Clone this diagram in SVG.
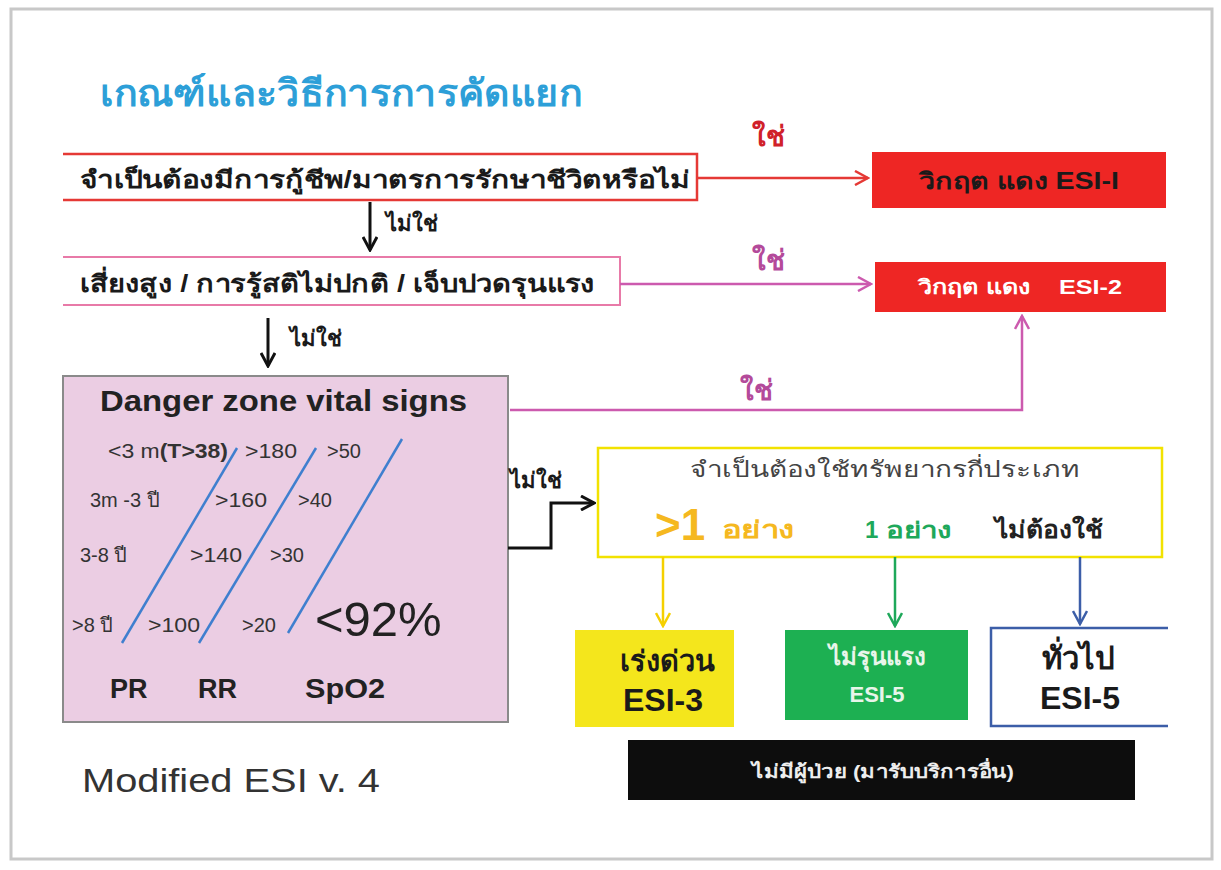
<svg xmlns="http://www.w3.org/2000/svg" width="1221" height="870" viewBox="0 0 1221 870">
<defs>
<style>
text{font-family:"Liberation Sans","Noto Sans","DejaVu Sans",sans-serif;}
.th{font-weight:bold;fill:#1a1a1a;}
.vs{font-size:20px;fill:#333;}
.lbl{font-size:22px;font-weight:bold;}
.ax{font-size:27px;font-weight:bold;fill:#222;}
</style>
<marker id="arR" markerWidth="16" markerHeight="16" refX="14" refY="8" orient="auto" markerUnits="userSpaceOnUse"><path d="M1,1 L14,8 L1,15" fill="none" stroke="#e53935" stroke-width="2.5"/></marker>
<marker id="arM" markerWidth="16" markerHeight="16" refX="14" refY="8" orient="auto" markerUnits="userSpaceOnUse"><path d="M1,1 L14,8 L1,15" fill="none" stroke="#cc5aae" stroke-width="2.5"/></marker>
<marker id="arK" markerWidth="16" markerHeight="16" refX="14" refY="8" orient="auto" markerUnits="userSpaceOnUse"><path d="M1,1 L14,8 L1,15" fill="none" stroke="#111" stroke-width="3"/></marker>
<marker id="arY" markerWidth="16" markerHeight="16" refX="14" refY="8" orient="auto" markerUnits="userSpaceOnUse"><path d="M1,1 L14,8 L1,15" fill="none" stroke="#f5d000" stroke-width="2.5"/></marker>
<marker id="arG" markerWidth="16" markerHeight="16" refX="14" refY="8" orient="auto" markerUnits="userSpaceOnUse"><path d="M1,1 L14,8 L1,15" fill="none" stroke="#1ea85a" stroke-width="2.5"/></marker>
<marker id="arB" markerWidth="16" markerHeight="16" refX="14" refY="8" orient="auto" markerUnits="userSpaceOnUse"><path d="M1,1 L14,8 L1,15" fill="none" stroke="#3c5ea8" stroke-width="2.5"/></marker>
</defs>
<rect x="0" y="0" width="1221" height="870" fill="#ffffff"/>
<rect x="11" y="9" width="1201" height="850" fill="#ffffff" stroke="#c8c8c8" stroke-width="3"/>

<g id="title">
<text x="100" y="106" font-size="37" font-weight="bold" fill="#2d9fd8" textLength="482" lengthAdjust="spacingAndGlyphs">เกณฑ์และวิธีการการคัดแยก</text>
</g>

<g id="q1">
<path d="M63,154 H697 V200 H63" fill="none" stroke="#e53935" stroke-width="2.5"/>
<text x="80" y="188" font-size="24" class="th" textLength="610" lengthAdjust="spacingAndGlyphs">จำเป็นต้องมีการกู้ชีพ/มาตรการรักษาชีวิตหรือไม่</text>
</g>

<g id="esi1">
<rect x="872" y="152" width="294" height="56" fill="#ee2624"/>
<text x="919" y="189" font-size="23" font-weight="bold" fill="#1a1a1a" textLength="200" lengthAdjust="spacingAndGlyphs">วิกฤต แดง ESI-I</text>
</g>

<g id="q2">
<path d="M63,257 H620 V305 H63" fill="none" stroke="#e87aa8" stroke-width="2"/>
<text x="80" y="292" font-size="24" class="th" textLength="515" lengthAdjust="spacingAndGlyphs">เสี่ยงสูง / การรู้สติไม่ปกติ / เจ็บปวดรุนแรง</text>
</g>

<g id="esi2">
<rect x="875" y="262" width="291" height="50" fill="#ee2624"/>
<text x="918" y="294" font-size="20" font-weight="bold" fill="#ffffff" xml:space="preserve" textLength="204" lengthAdjust="spacingAndGlyphs">วิกฤต แดง    ESI-2</text>
</g>

<g id="danger">
<rect x="63" y="376" width="445" height="346" fill="#ebcde3" stroke="#8a8a8a" stroke-width="2"/>
<text x="100" y="411" font-size="29" font-weight="bold" fill="#222" textLength="367" lengthAdjust="spacingAndGlyphs">Danger zone vital signs</text>
<text x="108" y="458" class="vs" textLength="120" lengthAdjust="spacingAndGlyphs">&lt;3 m<tspan font-weight="bold">(T&gt;38)</tspan></text>
<text x="245" y="458" class="vs" textLength="52" lengthAdjust="spacingAndGlyphs">&gt;180</text>
<text x="327" y="458" class="vs">&gt;50</text>
<text x="90" y="507" class="vs">3m -3 ปี</text>
<text x="215" y="507" class="vs" textLength="52" lengthAdjust="spacingAndGlyphs">&gt;160</text>
<text x="298" y="507" class="vs">&gt;40</text>
<text x="80" y="562" class="vs">3-8 ปี</text>
<text x="190" y="562" class="vs" textLength="52" lengthAdjust="spacingAndGlyphs">&gt;140</text>
<text x="270" y="562" class="vs">&gt;30</text>
<text x="72" y="632" class="vs">&gt;8 ปี</text>
<text x="148" y="632" class="vs" textLength="52" lengthAdjust="spacingAndGlyphs">&gt;100</text>
<text x="242" y="632" class="vs">&gt;20</text>
<text x="315" y="636" font-size="49" fill="#222">&lt;92%</text>
<line x1="237" y1="448" x2="122" y2="643" stroke="#3f7fcf" stroke-width="2.5"/>
<line x1="316" y1="448" x2="199" y2="643" stroke="#3f7fcf" stroke-width="2.5"/>
<line x1="402" y1="439" x2="288" y2="633" stroke="#3f7fcf" stroke-width="2.5"/>
<text x="110" y="698" class="ax">PR</text>
<text x="198" y="698" class="ax">RR</text>
<text x="305" y="698" class="ax" textLength="80" lengthAdjust="spacingAndGlyphs">SpO2</text>
</g>

<g id="resources">
<rect x="598" y="448" width="564" height="109" fill="#ffffff" stroke="#f2e200" stroke-width="2.5"/>
<text x="690" y="477" font-size="22" fill="#444" textLength="390" lengthAdjust="spacingAndGlyphs">จำเป็นต้องใช้ทรัพยากรกี่ประเภท</text>
<text x="655" y="540" font-size="44" font-weight="bold" fill="#f5b820">&gt;1</text>
<text x="722" y="538" font-size="24" font-weight="bold" fill="#f5b820" textLength="73" lengthAdjust="spacingAndGlyphs">อย่าง</text>
<text x="865" y="538" font-size="24" font-weight="bold" fill="#1ea85a">1</text>
<text x="886" y="538" font-size="22" font-weight="bold" fill="#1ea85a" textLength="66" lengthAdjust="spacingAndGlyphs">อย่าง</text>
<text x="995" y="538" font-size="24" font-weight="bold" fill="#222" textLength="108" lengthAdjust="spacingAndGlyphs">ไม่ต้องใช้</text>
</g>

<g id="esi3">
<rect x="575" y="630" width="159" height="97" fill="#f4e61c"/>
<text x="667" y="671" font-size="29" font-weight="bold" fill="#1a1a1a" text-anchor="middle">เร่งด่วน</text>
<text x="663" y="711" font-size="32" font-weight="bold" fill="#1a1a1a" text-anchor="middle">ESI-3</text>
</g>

<g id="esi5a">
<rect x="785" y="630" width="183" height="90" fill="#1db052"/>
<text x="877" y="665" font-size="24" font-weight="bold" fill="#e8f5ea" text-anchor="middle">ไม่รุนแรง</text>
<text x="877" y="702" font-size="22" font-weight="bold" fill="#e8f5ea" text-anchor="middle">ESI-5</text>
</g>

<g id="esi5b">
<path d="M1168,628 H991 V726 H1168" fill="#ffffff" stroke="#3c5ea8" stroke-width="2.5"/>
<text x="1078" y="669" font-size="31" font-weight="bold" fill="#1a1a1a" text-anchor="middle">ทั่วไป</text>
<text x="1080" y="709" font-size="32" font-weight="bold" fill="#1a1a1a" text-anchor="middle">ESI-5</text>
</g>

<g id="nopatient">
<rect x="628" y="740" width="507" height="60" fill="#0d0d0d"/>
<text x="752" y="778" font-size="19" font-weight="bold" fill="#eeeeee" textLength="262" lengthAdjust="spacingAndGlyphs">ไม่มีผู้ป่วย (มารับบริการอื่น)</text>
</g>

<g id="footer">
<text x="82" y="792" font-size="33" fill="#333" textLength="298" lengthAdjust="spacingAndGlyphs">Modified ESI v. 4</text>
</g>

<g id="connectors">
<line x1="697" y1="178" x2="868" y2="178" stroke="#e53935" stroke-width="2.5" marker-end="url(#arR)"/>
<text x="752" y="146" font-size="28" font-weight="bold" fill="#d0212a">ใช่</text>
<line x1="370" y1="202" x2="370" y2="250" stroke="#111" stroke-width="3" marker-end="url(#arK)"/>
<text x="386" y="231" class="lbl" fill="#1a1a1a">ไม่ใช่</text>
<line x1="620" y1="284" x2="871" y2="284" stroke="#cc5aae" stroke-width="2.5" marker-end="url(#arM)"/>
<text x="752" y="270" font-size="28" font-weight="bold" fill="#b44a9a">ใช่</text>
<line x1="268" y1="318" x2="268" y2="366" stroke="#111" stroke-width="3" marker-end="url(#arK)"/>
<text x="290" y="346" class="lbl" fill="#1a1a1a">ไม่ใช่</text>
<path d="M510,410 H1022 V316" fill="none" stroke="#cc5aae" stroke-width="2.5" marker-end="url(#arM)"/>
<text x="740" y="400" font-size="28" font-weight="bold" fill="#b44a9a">ใช่</text>
<text x="510" y="488" class="lbl" fill="#1a1a1a">ไม่ใช่</text>
<path d="M508,548 H551 V503 H594" fill="none" stroke="#111" stroke-width="3" marker-end="url(#arK)"/>
<line x1="663" y1="557" x2="663" y2="626" stroke="#f5d000" stroke-width="2.5" marker-end="url(#arY)"/>
<line x1="895" y1="557" x2="895" y2="626" stroke="#1ea85a" stroke-width="2.5" marker-end="url(#arG)"/>
<line x1="1080" y1="557" x2="1080" y2="624" stroke="#3c5ea8" stroke-width="2.5" marker-end="url(#arB)"/>
</g>
</svg>
